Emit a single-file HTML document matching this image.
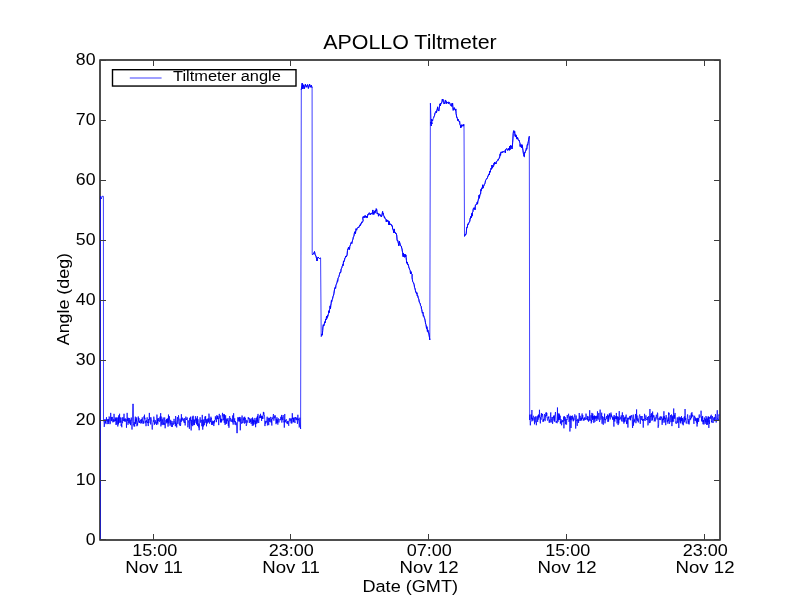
<!DOCTYPE html>
<html><head><meta charset="utf-8"><style>
html,body{margin:0;padding:0;background:#fff;width:800px;height:600px;overflow:hidden}
svg{display:block;will-change:transform}
text{font-family:"Liberation Sans",sans-serif;fill:#000}
</style></head><body>
<svg width="800" height="600" viewBox="0 0 800 600">
<rect x="0" y="0" width="800" height="600" fill="#fff"/>
<defs><clipPath id="ax"><rect x="100" y="60" width="620" height="480"/></clipPath></defs>
<rect x="100" y="60" width="620" height="480" fill="none" stroke="#000" stroke-width="1.39"/>
<path d="M100.30,540.00 L100.50,196.00 L101.30,199.00 L102.00,196.30 L103.40,196.30 L103.50,420.00 L103.80,421.89 L104.02,422.71 L104.24,426.88 L104.47,425.11 L104.69,419.19 L104.91,419.44 L105.13,420.80 L105.36,422.93 L105.58,419.66 L105.80,422.57 L106.02,424.11 L106.25,419.59 L106.47,417.24 L106.69,421.03 L106.91,419.64 L107.13,420.18 L107.36,419.60 L107.58,422.43 L107.80,424.11 L108.02,419.38 L108.25,421.73 L108.47,419.41 L108.69,423.89 L108.91,418.75 L109.13,416.52 L109.36,417.01 L109.58,421.71 L109.80,422.69 L110.02,424.16 L110.25,423.64 L110.47,423.38 L110.69,412.89 L110.91,418.52 L111.14,419.37 L111.36,421.02 L111.58,417.04 L111.80,417.99 L112.02,421.23 L112.25,416.92 L112.47,419.60 L112.69,420.27 L112.91,422.36 L113.14,421.00 L113.36,420.94 L113.58,419.32 L113.80,421.92 L114.03,413.85 L114.25,418.14 L114.47,421.31 L114.69,421.15 L114.91,420.19 L115.14,421.00 L115.36,417.54 L115.58,420.71 L115.80,419.26 L116.03,424.99 L116.25,418.07 L116.47,417.62 L116.69,424.34 L116.91,423.97 L117.14,417.65 L117.36,419.50 L117.58,420.59 L117.80,426.47 L118.03,423.04 L118.25,417.22 L118.47,424.35 L118.69,415.36 L118.92,422.81 L119.14,422.93 L119.36,419.10 L119.58,413.78 L119.80,421.50 L120.03,422.57 L120.25,420.52 L120.47,417.50 L120.69,422.46 L120.92,420.58 L121.14,425.90 L121.36,423.82 L121.58,424.81 L121.81,427.25 L122.03,417.59 L122.25,422.64 L122.47,423.20 L122.69,421.87 L122.92,417.22 L123.14,418.92 L123.36,420.93 L123.58,419.75 L123.81,418.90 L124.03,413.78 L124.25,421.09 L124.47,418.85 L124.69,419.67 L124.92,421.73 L125.14,419.63 L125.36,418.47 L125.58,419.16 L125.81,421.51 L126.03,419.08 L126.25,419.24 L126.47,427.78 L126.70,421.54 L126.92,420.33 L127.14,412.87 L127.36,418.30 L127.58,420.87 L127.81,417.88 L128.03,424.82 L128.25,420.89 L128.47,417.86 L128.70,418.32 L128.92,423.01 L129.14,419.53 L129.36,418.06 L129.59,422.47 L129.81,422.59 L130.03,423.91 L130.25,419.71 L130.47,425.14 L130.70,422.35 L130.92,421.31 L131.14,417.60 L131.36,417.69 L131.59,421.32 L131.81,426.42 L132.03,429.55 L132.25,423.59 L132.47,420.01 L132.70,404.00 L132.92,404.00 L133.14,404.00 L133.36,404.00 L133.59,424.55 L133.81,423.96 L134.03,426.45 L134.25,422.09 L134.48,424.85 L134.70,426.48 L134.92,422.22 L135.14,419.21 L135.36,416.66 L135.59,423.95 L135.81,418.85 L136.03,422.55 L136.25,419.80 L136.48,420.78 L136.70,417.41 L136.92,426.22 L137.14,423.04 L137.37,422.84 L137.59,425.32 L137.81,420.99 L138.03,420.69 L138.25,416.51 L138.48,418.00 L138.70,421.49 L138.92,418.01 L139.14,422.98 L139.37,421.03 L139.59,422.77 L139.81,421.97 L140.03,422.19 L140.25,420.46 L140.48,420.87 L140.70,419.66 L140.92,423.60 L141.14,421.67 L141.37,423.06 L141.59,419.13 L141.81,421.80 L142.03,421.27 L142.26,417.43 L142.48,419.94 L142.70,421.62 L142.92,423.69 L143.14,421.27 L143.37,421.28 L143.59,423.49 L143.81,419.47 L144.03,416.29 L144.26,418.31 L144.48,414.67 L144.70,419.45 L144.92,417.81 L145.15,423.26 L145.37,420.74 L145.59,421.02 L145.81,423.36 L146.03,426.18 L146.26,423.60 L146.48,420.30 L146.70,422.11 L146.92,420.00 L147.15,417.34 L147.37,421.12 L147.59,423.06 L147.81,421.88 L148.03,423.80 L148.26,426.06 L148.48,420.85 L148.70,419.04 L148.92,423.10 L149.15,418.61 L149.37,412.90 L149.59,419.47 L149.81,419.31 L150.04,417.51 L150.26,419.86 L150.48,421.76 L150.70,424.44 L150.92,417.29 L151.15,419.46 L151.37,419.97 L151.59,419.84 L151.81,422.13 L152.04,427.46 L152.26,429.54 L152.48,425.50 L152.70,425.70 L152.93,423.06 L153.15,422.29 L153.37,420.36 L153.59,421.69 L153.81,416.65 L154.04,419.33 L154.26,419.25 L154.48,424.73 L154.70,422.38 L154.93,423.84 L155.15,420.00 L155.37,422.11 L155.59,421.68 L155.81,423.27 L156.04,422.75 L156.26,422.11 L156.48,425.03 L156.70,422.52 L156.93,414.62 L157.15,419.42 L157.37,422.80 L157.59,418.57 L157.82,424.43 L158.04,419.98 L158.26,420.88 L158.48,420.79 L158.70,418.06 L158.93,419.99 L159.15,420.65 L159.37,421.75 L159.59,421.85 L159.82,419.59 L160.04,416.66 L160.26,421.08 L160.48,417.29 L160.70,413.15 L160.93,426.40 L161.15,416.53 L161.37,421.34 L161.59,421.65 L161.82,424.66 L162.04,421.41 L162.26,419.25 L162.48,419.87 L162.71,422.91 L162.93,425.09 L163.15,417.50 L163.37,421.86 L163.59,424.22 L163.82,424.31 L164.04,423.04 L164.26,425.06 L164.48,419.99 L164.71,417.46 L164.93,420.61 L165.15,428.26 L165.37,422.86 L165.60,422.57 L165.82,421.47 L166.04,420.02 L166.26,422.44 L166.48,419.15 L166.71,420.81 L166.93,423.43 L167.15,418.75 L167.37,422.30 L167.60,420.79 L167.82,418.42 L168.04,426.64 L168.26,421.82 L168.48,414.57 L168.71,423.38 L168.93,422.78 L169.15,419.65 L169.37,416.18 L169.60,421.02 L169.82,423.75 L170.04,425.61 L170.26,425.17 L170.49,422.61 L170.71,419.85 L170.93,423.90 L171.15,421.02 L171.37,426.46 L171.60,426.83 L171.82,425.82 L172.04,423.10 L172.26,427.02 L172.49,425.01 L172.71,424.90 L172.93,421.13 L173.15,424.61 L173.38,424.66 L173.60,423.08 L173.82,422.27 L174.04,418.86 L174.26,420.82 L174.49,421.74 L174.71,421.44 L174.93,423.93 L175.15,422.28 L175.38,426.21 L175.60,416.01 L175.82,417.95 L176.04,420.14 L176.26,425.16 L176.49,423.79 L176.71,427.45 L176.93,422.21 L177.15,420.96 L177.38,417.10 L177.60,419.49 L177.82,423.88 L178.04,421.15 L178.27,420.62 L178.49,415.30 L178.71,417.41 L178.93,421.35 L179.15,422.92 L179.38,425.31 L179.60,425.45 L179.82,421.47 L180.04,418.61 L180.27,422.60 L180.49,425.98 L180.71,424.66 L180.93,420.28 L181.16,421.97 L181.38,414.20 L181.60,420.63 L181.82,418.65 L182.04,419.77 L182.27,418.19 L182.49,417.69 L182.71,419.68 L182.93,420.72 L183.16,420.13 L183.38,418.95 L183.60,419.37 L183.82,421.81 L184.04,422.59 L184.27,418.03 L184.49,421.58 L184.71,423.00 L184.93,421.53 L185.16,425.44 L185.38,421.92 L185.60,418.01 L185.82,416.63 L186.05,417.49 L186.27,420.01 L186.49,419.48 L186.71,420.02 L186.93,419.29 L187.16,417.44 L187.38,419.40 L187.60,420.94 L187.82,427.26 L188.05,425.77 L188.27,423.62 L188.49,420.95 L188.71,420.51 L188.94,420.32 L189.16,422.89 L189.38,428.82 L189.60,419.00 L189.82,417.86 L190.05,420.86 L190.27,418.97 L190.49,416.71 L190.71,423.79 L190.94,424.87 L191.16,430.43 L191.38,419.86 L191.60,425.30 L191.82,423.59 L192.05,422.34 L192.27,416.51 L192.49,422.50 L192.71,426.14 L192.94,423.86 L193.16,415.74 L193.38,418.67 L193.60,425.03 L193.83,424.51 L194.05,419.41 L194.27,420.25 L194.49,425.06 L194.71,420.00 L194.94,422.76 L195.16,421.42 L195.38,416.19 L195.60,416.75 L195.83,420.47 L196.05,418.76 L196.27,423.07 L196.49,423.83 L196.72,418.46 L196.94,424.68 L197.16,418.92 L197.38,416.20 L197.60,426.07 L197.83,420.59 L198.05,419.35 L198.27,422.50 L198.49,422.96 L198.72,427.44 L198.94,424.11 L199.16,430.24 L199.38,424.99 L199.60,423.00 L199.83,418.51 L200.05,417.24 L200.27,417.55 L200.49,422.14 L200.72,422.70 L200.94,420.86 L201.16,419.82 L201.38,421.05 L201.61,420.65 L201.83,426.21 L202.05,422.25 L202.27,414.90 L202.49,423.32 L202.72,429.63 L202.94,425.76 L203.16,419.86 L203.38,426.44 L203.61,423.88 L203.83,422.58 L204.05,419.25 L204.27,425.19 L204.50,422.20 L204.72,422.63 L204.94,416.61 L205.16,419.95 L205.38,420.11 L205.61,416.13 L205.83,422.71 L206.05,419.43 L206.27,423.21 L206.50,426.30 L206.72,419.35 L206.94,419.42 L207.16,422.35 L207.38,423.44 L207.61,420.90 L207.83,418.84 L208.05,421.41 L208.27,418.26 L208.50,421.02 L208.72,422.44 L208.94,413.66 L209.16,415.97 L209.39,421.83 L209.61,423.66 L209.83,422.65 L210.05,418.61 L210.27,420.14 L210.50,421.92 L210.72,419.20 L210.94,416.72 L211.16,419.42 L211.39,418.18 L211.61,424.92 L211.83,421.59 L212.05,422.30 L212.28,421.94 L212.50,424.81 L212.72,420.73 L212.94,421.38 L213.16,423.13 L213.39,421.06 L213.61,423.95 L213.83,426.06 L214.05,422.48 L214.28,423.31 L214.50,420.11 L214.72,422.18 L214.94,420.29 L215.16,419.68 L215.39,416.32 L215.61,419.45 L215.83,418.82 L216.05,417.85 L216.28,419.44 L216.50,422.14 L216.72,415.76 L216.94,415.08 L217.17,418.20 L217.39,416.33 L217.61,419.18 L217.83,416.02 L218.05,418.92 L218.28,417.96 L218.50,419.24 L218.72,425.11 L218.94,416.71 L219.17,414.19 L219.39,413.86 L219.61,415.74 L219.83,418.49 L220.06,417.03 L220.28,415.36 L220.50,422.43 L220.72,418.41 L220.94,421.99 L221.17,419.15 L221.39,422.46 L221.61,421.84 L221.83,419.00 L222.06,420.51 L222.28,414.95 L222.50,412.89 L222.72,415.55 L222.94,416.37 L223.17,414.48 L223.39,417.69 L223.61,420.20 L223.83,418.95 L224.06,413.98 L224.28,422.81 L224.50,414.64 L224.72,419.61 L224.95,424.03 L225.17,424.96 L225.39,421.75 L225.61,415.30 L225.83,421.02 L226.06,423.96 L226.28,419.24 L226.50,418.71 L226.72,423.64 L226.95,420.05 L227.17,420.71 L227.39,421.14 L227.61,418.81 L227.84,419.25 L228.06,418.27 L228.28,425.79 L228.50,424.08 L228.72,420.65 L228.95,427.78 L229.17,422.89 L229.39,417.86 L229.61,416.12 L229.84,417.05 L230.06,421.15 L230.28,419.35 L230.50,418.16 L230.72,418.17 L230.95,419.58 L231.17,421.94 L231.39,420.78 L231.61,420.91 L231.84,421.05 L232.06,419.17 L232.28,420.50 L232.50,422.34 L232.73,415.43 L232.95,419.59 L233.17,424.60 L233.39,419.87 L233.61,413.24 L233.84,418.21 L234.06,419.32 L234.28,422.00 L234.50,419.32 L234.73,418.39 L234.95,424.51 L235.17,423.65 L235.39,421.04 L235.62,423.37 L235.84,425.10 L236.06,424.45 L236.28,422.47 L236.50,423.52 L236.73,433.00 L236.95,433.00 L237.17,433.00 L237.39,433.00 L237.62,421.91 L237.84,417.28 L238.06,420.67 L238.28,421.13 L238.50,418.17 L238.73,419.02 L238.95,417.40 L239.17,421.79 L239.39,416.95 L239.62,420.90 L239.84,420.01 L240.06,418.98 L240.28,430.29 L240.51,423.63 L240.73,417.24 L240.95,417.80 L241.17,421.88 L241.39,422.16 L241.62,423.70 L241.84,421.36 L242.06,415.54 L242.28,417.24 L242.51,423.07 L242.73,423.13 L242.95,422.67 L243.17,422.76 L243.40,421.18 L243.62,418.34 L243.84,419.97 L244.06,417.04 L244.28,421.79 L244.51,423.59 L244.73,416.73 L244.95,419.59 L245.17,419.63 L245.40,418.17 L245.62,419.66 L245.84,422.92 L246.06,419.90 L246.28,425.92 L246.51,425.18 L246.73,424.24 L246.95,420.65 L247.17,420.53 L247.40,421.52 L247.62,421.94 L247.84,422.59 L248.06,419.43 L248.29,417.14 L248.51,419.12 L248.73,419.19 L248.95,417.99 L249.17,417.95 L249.40,418.83 L249.62,422.96 L249.84,422.07 L250.06,418.58 L250.29,419.00 L250.51,422.03 L250.73,419.64 L250.95,420.86 L251.18,423.90 L251.40,419.49 L251.62,418.47 L251.84,418.47 L252.06,421.12 L252.29,425.80 L252.51,417.46 L252.73,423.34 L252.95,418.63 L253.18,421.46 L253.40,425.45 L253.62,419.99 L253.84,423.72 L254.06,423.90 L254.29,420.56 L254.51,420.64 L254.73,421.86 L254.95,417.94 L255.18,424.62 L255.40,421.29 L255.62,427.21 L255.84,422.56 L256.07,419.79 L256.29,423.72 L256.51,417.65 L256.73,419.62 L256.95,420.24 L257.18,423.24 L257.40,415.96 L257.62,421.50 L257.84,414.76 L258.07,413.91 L258.29,419.92 L258.51,421.61 L258.73,423.03 L258.95,420.13 L259.18,418.60 L259.40,417.36 L259.62,418.08 L259.84,415.39 L260.07,417.89 L260.29,416.30 L260.51,413.80 L260.73,417.85 L260.96,415.94 L261.18,418.13 L261.40,416.88 L261.62,420.94 L261.84,415.76 L262.07,418.13 L262.29,415.89 L262.51,418.99 L262.73,417.39 L262.96,418.78 L263.18,414.73 L263.40,411.90 L263.62,414.51 L263.85,412.48 L264.07,415.74 L264.29,415.54 L264.51,415.35 L264.73,419.28 L264.96,426.08 L265.18,420.88 L265.40,421.38 L265.62,423.70 L265.85,422.61 L266.07,421.17 L266.29,421.25 L266.51,421.31 L266.73,422.42 L266.96,419.06 L267.18,416.72 L267.40,425.42 L267.62,424.85 L267.85,419.46 L268.07,418.13 L268.29,417.82 L268.51,421.51 L268.74,425.15 L268.96,418.48 L269.18,419.95 L269.40,417.86 L269.62,421.58 L269.85,420.36 L270.07,421.83 L270.29,418.23 L270.51,416.90 L270.74,417.89 L270.96,420.45 L271.18,422.66 L271.40,419.09 L271.63,422.88 L271.85,425.54 L272.07,417.29 L272.29,419.17 L272.51,418.47 L272.74,418.67 L272.96,418.31 L273.18,415.78 L273.40,414.01 L273.63,415.04 L273.85,420.65 L274.07,416.98 L274.29,416.35 L274.51,416.87 L274.74,418.26 L274.96,415.24 L275.18,416.15 L275.40,415.87 L275.63,418.07 L275.85,420.95 L276.07,424.16 L276.29,418.93 L276.52,420.98 L276.74,423.03 L276.96,417.30 L277.18,422.75 L277.40,420.42 L277.63,419.62 L277.85,424.62 L278.07,420.27 L278.29,418.45 L278.52,418.54 L278.74,421.15 L278.96,422.43 L279.18,421.41 L279.41,420.98 L279.63,420.60 L279.85,419.10 L280.07,419.57 L280.29,420.09 L280.52,420.02 L280.74,416.83 L280.96,417.06 L281.18,419.47 L281.41,417.90 L281.63,414.93 L281.85,422.60 L282.07,418.43 L282.29,417.36 L282.52,418.13 L282.74,420.15 L282.96,416.04 L283.18,415.06 L283.41,418.27 L283.63,418.80 L283.85,422.30 L284.07,421.37 L284.30,427.63 L284.52,422.40 L284.74,413.97 L284.96,422.56 L285.18,420.05 L285.41,421.66 L285.63,420.23 L285.85,420.03 L286.07,420.02 L286.30,419.28 L286.52,419.82 L286.74,423.26 L286.96,422.45 L287.19,422.09 L287.41,424.08 L287.63,421.23 L287.85,422.25 L288.07,420.90 L288.30,422.12 L288.52,424.54 L288.74,425.78 L288.96,422.00 L289.19,421.61 L289.41,418.38 L289.63,418.49 L289.85,418.61 L290.07,420.92 L290.30,418.49 L290.52,418.69 L290.74,420.05 L290.96,422.53 L291.19,423.35 L291.41,418.71 L291.63,418.48 L291.85,423.44 L292.08,420.01 L292.30,413.23 L292.52,418.98 L292.74,418.00 L292.96,417.68 L293.19,422.32 L293.41,417.93 L293.63,421.89 L293.85,418.08 L294.08,418.40 L294.30,417.48 L294.52,421.42 L294.74,421.17 L294.97,423.04 L295.19,418.33 L295.41,417.02 L295.63,418.80 L295.85,419.62 L296.08,418.92 L296.30,417.56 L296.52,418.81 L296.74,420.18 L296.97,418.00 L297.19,418.29 L297.41,423.87 L297.63,420.34 L297.85,414.78 L298.08,419.96 L298.30,420.02 L298.52,418.67 L298.74,421.06 L298.97,423.16 L299.19,427.41 L299.41,426.80 L299.63,419.84 L299.86,417.71 L300.08,421.62 L300.60,429.00 L301.30,89.00 L301.30,89.50 L302.20,83.20 L302.80,89.00 L303.60,84.80 L304.40,88.60 L305.40,84.30 L306.40,87.20 L307.60,84.60 L308.40,88.40 L309.60,84.20 L310.50,87.20 L311.40,85.30 L312.10,88.00 L312.10,88.00 L312.20,254.50 L313.50,254.00 L314.50,251.50 L315.20,255.00 L316.00,256.00 L317.00,261.00 L318.00,257.00 L319.50,258.50 L320.60,258.00 L321.20,336.70 L321.70,335.96 L322.02,333.96 L322.34,334.82 L322.66,330.66 L322.98,326.59 L323.30,324.76 L323.64,325.99 L323.98,325.84 L324.32,323.96 L324.66,321.77 L325.00,322.58 L325.31,322.58 L325.62,319.01 L325.94,320.00 L326.25,318.79 L326.56,316.12 L326.88,318.43 L327.19,317.92 L327.50,315.43 L327.84,316.27 L328.18,314.63 L328.52,313.52 L328.86,310.75 L329.20,312.62 L329.52,309.71 L329.84,308.43 L330.16,305.85 L330.48,308.63 L330.80,305.20 L331.12,303.73 L331.45,300.63 L331.78,301.48 L332.10,299.64 L332.40,299.39 L332.70,298.13 L333.00,296.59 L333.30,295.90 L333.62,294.98 L333.95,293.35 L334.28,291.02 L334.60,288.99 L334.93,287.62 L335.26,287.45 L335.59,288.34 L335.92,285.42 L336.25,284.56 L336.54,283.83 L336.84,282.87 L337.13,282.21 L337.42,280.71 L337.71,281.21 L338.01,278.56 L338.30,277.75 L338.61,277.26 L338.93,276.69 L339.24,275.17 L339.55,274.23 L339.86,272.79 L340.18,272.30 L340.49,272.83 L340.80,272.06 L341.14,268.94 L341.48,268.47 L341.82,267.79 L342.16,266.45 L342.50,265.97 L342.84,264.50 L343.18,265.48 L343.52,260.89 L343.86,261.70 L344.20,260.88 L344.49,260.67 L344.78,258.31 L345.07,258.31 L345.36,257.73 L345.65,256.31 L345.94,256.17 L346.23,257.03 L346.52,255.84 L346.81,255.89 L347.10,254.90 L347.50,250.37 L347.84,249.07 L348.18,249.33 L348.52,247.05 L348.86,248.80 L349.20,248.33 L349.49,249.44 L349.79,246.39 L350.08,245.89 L350.37,244.85 L350.66,244.26 L350.96,242.90 L351.25,242.48 L351.54,243.00 L351.83,243.49 L352.12,242.06 L352.42,240.78 L352.71,239.73 L353.00,239.07 L353.32,237.15 L353.63,236.54 L353.95,236.30 L354.27,233.82 L354.58,231.97 L354.90,233.03 L355.19,231.55 L355.48,233.57 L355.77,230.77 L356.06,228.76 L356.34,229.31 L356.63,230.18 L356.92,229.08 L357.21,228.32 L357.50,227.90 L357.80,227.81 L358.10,227.34 L358.40,228.01 L358.70,227.31 L359.00,227.31 L359.30,226.02 L359.60,225.40 L359.90,225.64 L360.20,225.94 L360.50,223.80 L360.79,224.41 L361.08,223.81 L361.37,223.58 L361.66,222.02 L361.94,222.14 L362.23,222.27 L362.52,222.23 L362.81,221.34 L363.10,220.63 L362.75,217.67 L363.05,216.70 L363.35,216.70 L363.65,217.43 L363.95,216.66 L364.25,217.71 L364.55,216.52 L364.85,216.82 L365.15,215.47 L365.45,217.22 L365.75,216.54 L366.05,217.38 L366.35,217.50 L366.65,216.02 L366.95,216.41 L367.25,217.63 L367.55,216.20 L367.85,214.45 L368.15,214.86 L368.45,214.24 L368.75,213.37 L369.05,213.03 L369.35,212.78 L369.65,213.22 L369.95,214.45 L370.25,214.86 L370.57,213.74 L370.89,213.50 L371.21,213.86 L371.54,213.28 L371.86,213.43 L372.18,214.29 L372.50,211.81 L372.82,209.96 L373.13,211.65 L373.45,212.59 L373.77,214.47 L374.08,212.31 L374.40,213.14 L374.71,211.23 L375.03,213.10 L375.34,210.35 L375.66,211.19 L375.97,210.98 L376.29,208.69 L376.60,209.03 L376.92,211.31 L377.23,214.02 L377.55,213.26 L377.87,213.94 L378.18,213.53 L378.50,216.17 L378.80,215.03 L379.10,215.23 L379.40,214.15 L379.70,214.18 L380.00,214.30 L380.30,214.94 L380.60,216.22 L380.90,215.74 L381.20,215.70 L381.50,216.73 L381.87,215.68 L382.23,213.49 L382.60,211.45 L382.89,213.63 L383.18,213.10 L383.46,215.27 L383.75,215.52 L384.07,215.90 L384.39,217.75 L384.71,217.31 L385.04,218.28 L385.36,218.82 L385.68,219.13 L386.00,219.28 L386.29,221.71 L386.57,219.98 L386.86,219.78 L387.15,221.54 L387.44,220.65 L387.73,220.29 L388.01,220.57 L388.30,220.90 L388.62,222.87 L388.95,224.97 L389.28,221.47 L389.60,224.49 L389.90,223.55 L390.20,224.25 L390.50,224.64 L390.80,224.95 L391.10,224.34 L391.40,225.00 L391.70,225.91 L392.02,225.63 L392.34,225.75 L392.66,229.07 L392.98,229.05 L393.30,229.84 L393.64,232.73 L393.98,232.15 L394.32,228.95 L394.66,232.60 L395.00,232.02 L395.31,232.95 L395.62,233.56 L395.94,233.05 L396.25,233.79 L396.68,234.98 L397.10,240.00 L397.43,240.94 L397.76,240.58 L398.09,242.09 L398.42,243.42 L398.75,245.75 L399.08,244.55 L399.41,241.27 L399.74,242.92 L400.07,243.72 L400.40,245.83 L400.72,245.77 L401.05,246.04 L401.38,246.19 L401.70,248.33 L401.99,248.45 L402.29,250.94 L402.58,252.26 L402.87,255.03 L403.16,256.69 L403.46,253.13 L403.75,256.12 L404.04,256.52 L404.34,257.10 L404.63,257.17 L404.92,254.02 L405.21,256.03 L405.51,257.00 L405.80,254.92 L406.12,257.47 L406.45,260.35 L406.78,263.24 L407.10,261.99 L407.41,262.61 L407.71,264.68 L408.02,264.23 L408.33,265.17 L408.64,266.30 L408.94,267.92 L409.25,268.13 L409.57,269.41 L409.88,269.67 L410.20,270.39 L410.52,273.96 L410.83,272.23 L411.15,271.75 L411.47,273.78 L411.78,273.84 L412.10,274.28 L412.10,277.86 L412.40,279.64 L412.70,281.52 L413.00,282.26 L413.30,282.50 L413.60,282.80 L413.90,284.19 L414.20,284.65 L414.50,287.38 L414.80,287.88 L415.10,288.98 L415.40,290.34 L415.70,291.93 L416.00,291.71 L416.30,293.02 L416.61,293.99 L416.93,292.75 L417.24,295.98 L417.56,295.73 L417.87,295.67 L418.19,298.09 L418.50,298.42 L418.80,299.31 L419.10,300.97 L419.40,302.46 L419.70,302.61 L420.00,303.04 L420.30,304.17 L420.60,305.71 L420.90,306.08 L421.20,306.44 L421.50,309.16 L421.80,309.68 L422.10,311.59 L422.40,313.15 L422.70,312.41 L423.00,312.15 L423.30,316.15 L423.60,315.56 L423.90,316.29 L424.20,317.39 L424.50,318.18 L424.80,319.12 L425.09,320.32 L425.38,322.17 L425.67,324.06 L425.96,324.33 L426.25,326.37 L426.54,328.43 L426.83,326.64 L427.12,327.75 L427.41,331.45 L427.70,329.86 L428.05,330.21 L428.40,332.91 L428.75,332.78 L429.10,335.13 L429.45,337.26 L429.80,340.00 L430.40,103.10 L431.30,126.00 L430.80,122.00 L432.00,124.00 L431.60,119.00 L432.60,121.00 L433.40,118.27 L433.75,117.31 L434.10,116.44 L434.45,115.80 L434.80,114.10 L435.14,112.60 L435.48,112.38 L435.82,112.20 L436.16,111.21 L436.50,112.64 L436.90,110.04 L437.30,109.07 L437.60,106.87 L437.90,109.22 L438.20,110.59 L438.50,110.56 L438.87,111.04 L439.23,108.10 L439.60,105.60 L439.89,103.87 L440.17,104.58 L440.46,106.00 L440.74,103.19 L441.03,103.72 L441.31,103.26 L441.60,102.48 L441.95,102.37 L442.30,99.29 L442.65,100.19 L443.00,99.43 L443.35,101.27 L443.70,102.36 L444.05,104.03 L444.40,103.57 L444.70,103.01 L445.00,102.00 L445.30,100.11 L445.60,100.44 L445.92,100.73 L446.23,103.74 L446.55,101.77 L446.87,102.75 L447.18,102.22 L447.50,102.69 L447.81,102.61 L448.13,103.06 L448.44,103.70 L448.76,101.96 L449.07,102.14 L449.39,102.50 L449.70,102.68 L450.10,104.46 L450.41,104.59 L450.73,104.95 L451.04,105.74 L451.35,105.13 L451.66,106.35 L451.98,103.40 L452.29,105.10 L452.60,103.36 L452.90,107.73 L453.21,110.32 L453.53,109.61 L453.84,109.18 L454.16,107.60 L454.47,109.15 L454.79,109.29 L455.10,109.03 L455.45,110.45 L455.80,108.94 L456.10,113.72 L456.40,115.06 L456.72,117.37 L457.05,117.29 L457.38,118.47 L457.70,120.49 L458.02,119.01 L458.33,120.26 L458.65,121.20 L458.97,121.44 L459.28,121.44 L459.60,121.14 L459.90,124.33 L460.20,124.85 L460.50,125.78 L460.80,127.94 L461.10,125.15 L461.39,126.14 L461.68,126.92 L461.97,124.67 L462.26,125.02 L462.55,125.59 L462.84,125.30 L463.13,126.15 L463.42,125.93 L463.71,124.36 L464.00,125.40 L464.50,236.50 L464.60,235.66 L464.93,235.72 L465.26,234.29 L465.59,234.90 L465.92,234.65 L466.25,233.16 L466.70,227.64 L467.02,228.00 L467.34,227.14 L467.66,224.34 L467.98,223.82 L468.30,224.46 L468.60,223.55 L468.90,222.96 L469.20,222.10 L469.50,221.51 L469.80,221.51 L470.10,218.65 L470.40,218.97 L470.74,216.46 L471.08,217.75 L471.42,217.45 L471.76,213.48 L472.10,216.11 L472.50,212.26 L472.90,211.71 L473.32,208.52 L473.75,208.41 L474.06,207.77 L474.38,208.27 L474.69,207.88 L475.00,209.82 L475.40,205.09 L475.80,204.76 L476.14,204.29 L476.48,204.47 L476.82,204.02 L477.16,202.33 L477.50,204.13 L477.90,200.93 L478.20,200.43 L478.50,198.55 L478.80,197.79 L479.10,195.20 L479.40,198.27 L479.70,195.93 L480.00,194.48 L480.30,193.85 L480.60,194.02 L480.90,189.47 L481.20,190.59 L481.51,189.63 L481.82,187.95 L482.13,188.56 L482.44,186.87 L482.76,184.79 L483.07,188.13 L483.38,186.53 L483.69,186.30 L484.00,185.50 L484.30,184.49 L484.60,184.29 L484.90,183.53 L485.20,182.47 L485.50,180.67 L485.80,180.15 L486.10,179.46 L486.40,179.22 L486.70,178.69 L487.00,178.74 L487.30,177.96 L487.60,177.24 L487.95,175.77 L488.30,175.79 L488.65,175.04 L489.00,173.91 L489.30,174.78 L489.60,172.02 L489.90,171.03 L490.20,172.24 L490.50,170.25 L490.80,169.25 L491.11,168.18 L491.42,169.24 L491.73,167.99 L492.04,165.00 L492.36,168.14 L492.67,167.02 L492.98,167.20 L493.29,166.79 L493.60,166.35 L493.90,163.60 L494.20,164.37 L494.50,162.31 L494.80,163.82 L495.10,163.17 L495.40,163.53 L495.70,162.75 L496.00,163.83 L496.30,161.64 L496.65,161.45 L497.00,160.85 L497.35,160.91 L497.70,160.50 L498.02,159.54 L498.33,160.12 L498.65,158.96 L498.97,158.60 L499.28,157.51 L499.60,157.67 L500.00,154.21 L500.29,153.73 L500.57,155.32 L500.86,152.10 L501.15,152.22 L501.44,152.08 L501.73,152.69 L502.01,152.22 L502.30,151.68 L502.60,152.50 L502.90,152.00 L503.20,151.36 L503.50,151.64 L503.80,151.63 L504.10,151.40 L504.40,151.08 L504.70,150.82 L505.00,151.25 L505.32,152.85 L505.65,149.69 L505.98,149.06 L506.30,148.97 L506.59,148.65 L506.87,148.86 L507.16,149.73 L507.44,149.93 L507.73,150.37 L508.01,150.12 L508.30,148.53 L508.59,148.74 L508.87,149.59 L509.16,148.66 L509.44,150.28 L509.73,146.25 L510.01,149.72 L510.30,146.99 L510.70,145.40 L511.02,146.47 L511.34,145.94 L511.66,147.02 L511.98,148.92 L512.30,147.51 L512.60,142.87 L512.90,138.94 L513.20,133.67 L513.50,131.31 L513.80,130.67 L514.10,131.50 L514.40,132.58 L514.70,131.56 L515.02,136.20 L515.34,136.42 L515.66,134.65 L515.98,137.07 L516.30,135.52 L516.70,138.83 L516.99,138.95 L517.27,139.06 L517.56,137.44 L517.84,138.30 L518.13,139.51 L518.41,139.72 L518.70,140.28 L519.03,140.05 L519.35,141.09 L519.67,142.41 L520.00,143.22 L520.00,146.08 L520.29,146.61 L520.58,145.36 L520.86,144.60 L521.15,145.12 L521.44,147.71 L521.72,146.25 L522.01,144.73 L522.30,145.58 L522.64,148.11 L522.98,150.32 L523.32,152.91 L523.66,154.71 L524.00,156.43 L524.34,156.66 L524.68,152.35 L525.02,152.75 L525.36,151.62 L525.70,150.63 L525.99,150.65 L526.28,148.57 L526.56,149.01 L526.85,149.29 L527.14,145.41 L527.42,144.38 L527.71,145.21 L528.00,143.11 L528.33,141.51 L528.65,139.67 L528.97,137.79 L529.30,136.30 L529.70,420.00 L529.90,414.68 L530.12,420.87 L530.34,425.30 L530.57,422.03 L530.79,421.36 L531.01,421.42 L531.23,414.48 L531.46,416.95 L531.68,419.14 L531.90,410.00 L532.12,421.23 L532.35,420.35 L532.57,417.84 L532.79,419.82 L533.01,420.28 L533.23,417.36 L533.46,415.77 L533.68,416.53 L533.90,418.10 L534.12,420.72 L534.35,421.29 L534.57,424.30 L534.79,417.16 L535.01,422.49 L535.23,422.31 L535.46,416.73 L535.68,416.39 L535.90,417.62 L536.12,419.50 L536.35,425.23 L536.57,422.13 L536.79,420.25 L537.01,416.40 L537.24,419.15 L537.46,419.50 L537.68,421.90 L537.90,415.53 L538.12,419.70 L538.35,418.24 L538.57,414.51 L538.79,417.39 L539.01,415.17 L539.24,417.33 L539.46,409.79 L539.68,414.66 L539.90,415.43 L540.12,420.56 L540.35,423.37 L540.57,419.50 L540.79,417.23 L541.01,419.79 L541.24,416.13 L541.46,413.20 L541.68,416.61 L541.90,417.04 L542.13,413.97 L542.35,415.11 L542.57,413.90 L542.79,416.91 L543.01,421.87 L543.24,419.83 L543.46,421.38 L543.68,418.92 L543.90,420.03 L544.13,419.70 L544.35,415.57 L544.57,414.16 L544.79,416.31 L545.01,421.17 L545.24,420.55 L545.46,415.32 L545.68,416.65 L545.90,412.72 L546.13,414.46 L546.35,412.43 L546.57,416.04 L546.79,412.92 L547.02,417.91 L547.24,417.60 L547.46,420.36 L547.68,420.59 L547.90,419.54 L548.13,418.02 L548.35,416.92 L548.57,418.26 L548.79,416.47 L549.02,421.31 L549.24,422.85 L549.46,419.97 L549.68,419.62 L549.90,421.40 L550.13,422.35 L550.35,418.21 L550.57,414.23 L550.79,412.45 L551.02,420.31 L551.24,422.44 L551.46,419.07 L551.68,419.37 L551.91,417.04 L552.13,417.61 L552.35,417.66 L552.57,423.86 L552.79,421.97 L553.02,417.03 L553.24,417.98 L553.46,415.72 L553.68,417.28 L553.91,420.57 L554.13,420.34 L554.35,415.44 L554.57,421.68 L554.79,416.46 L555.02,415.84 L555.24,413.65 L555.46,412.01 L555.68,415.95 L555.91,420.74 L556.13,422.73 L556.35,421.07 L556.57,422.32 L556.80,422.72 L557.02,422.60 L557.24,423.19 L557.46,407.50 L557.68,421.11 L557.91,420.71 L558.13,421.69 L558.35,413.49 L558.57,419.87 L558.80,417.12 L559.02,419.96 L559.24,413.64 L559.46,418.27 L559.68,414.90 L559.91,419.92 L560.13,415.96 L560.35,423.62 L560.57,421.61 L560.80,423.21 L561.02,419.22 L561.24,419.86 L561.46,425.24 L561.69,425.15 L561.91,420.88 L562.13,422.22 L562.35,421.32 L562.57,420.13 L562.80,420.68 L563.02,421.92 L563.24,420.90 L563.46,419.35 L563.69,416.62 L563.91,428.32 L564.13,421.27 L564.35,416.18 L564.57,418.47 L564.80,419.93 L565.02,420.90 L565.24,417.21 L565.46,424.31 L565.69,422.16 L565.91,419.29 L566.13,421.13 L566.35,423.67 L566.58,424.57 L566.80,419.11 L567.02,420.01 L567.24,414.94 L567.46,417.81 L567.69,418.31 L567.91,416.99 L568.13,416.65 L568.35,416.04 L568.58,413.76 L568.80,415.90 L569.02,421.85 L569.24,420.24 L569.46,416.52 L569.69,421.09 L569.91,431.50 L570.13,424.58 L570.35,415.70 L570.58,419.97 L570.80,417.47 L571.02,428.00 L571.24,417.52 L571.47,417.05 L571.69,416.00 L571.91,420.21 L572.13,416.25 L572.35,415.53 L572.58,418.77 L572.80,417.77 L573.02,416.76 L573.24,421.32 L573.47,418.46 L573.69,420.33 L573.91,420.42 L574.13,420.18 L574.35,417.27 L574.58,415.68 L574.80,414.36 L575.02,415.94 L575.24,417.32 L575.47,421.03 L575.69,428.57 L575.91,423.04 L576.13,415.54 L576.36,419.63 L576.58,420.74 L576.80,420.20 L577.02,423.07 L577.24,425.86 L577.47,419.84 L577.69,418.97 L577.91,418.95 L578.13,421.00 L578.36,419.70 L578.58,422.88 L578.80,418.38 L579.02,418.61 L579.24,412.99 L579.47,417.83 L579.69,418.10 L579.91,420.91 L580.13,415.81 L580.36,419.13 L580.58,418.72 L580.80,420.43 L581.02,420.87 L581.25,417.89 L581.47,420.12 L581.69,416.41 L581.91,414.89 L582.13,413.49 L582.36,418.84 L582.58,416.16 L582.80,415.15 L583.02,418.21 L583.25,420.64 L583.47,418.73 L583.69,418.56 L583.91,419.71 L584.13,420.49 L584.36,417.76 L584.58,419.51 L584.80,417.38 L585.02,417.44 L585.25,418.76 L585.47,419.85 L585.69,419.35 L585.91,413.60 L586.14,413.76 L586.36,417.71 L586.58,418.91 L586.80,419.39 L587.02,419.50 L587.25,417.82 L587.47,420.30 L587.69,415.96 L587.91,417.84 L588.14,416.70 L588.36,419.08 L588.58,421.69 L588.80,419.51 L589.02,420.33 L589.25,418.92 L589.47,419.59 L589.69,410.23 L589.91,419.49 L590.14,420.85 L590.36,419.87 L590.58,418.72 L590.80,418.27 L591.03,415.27 L591.25,423.36 L591.47,420.08 L591.69,422.02 L591.91,412.90 L592.14,417.81 L592.36,415.24 L592.58,420.02 L592.80,413.58 L593.03,418.80 L593.25,416.26 L593.47,416.14 L593.69,422.20 L593.92,422.99 L594.14,416.20 L594.36,419.47 L594.58,415.52 L594.80,421.49 L595.03,421.91 L595.25,416.27 L595.47,417.84 L595.69,418.72 L595.92,416.00 L596.14,417.67 L596.36,416.58 L596.58,416.64 L596.80,421.02 L597.03,415.63 L597.25,418.60 L597.47,411.35 L597.69,413.71 L597.92,417.34 L598.14,419.59 L598.36,415.55 L598.58,415.22 L598.81,412.99 L599.03,417.97 L599.25,419.07 L599.47,421.98 L599.69,421.18 L599.92,416.95 L600.14,409.65 L600.36,418.41 L600.58,419.40 L600.81,419.64 L601.03,419.33 L601.25,418.94 L601.47,416.03 L601.69,412.70 L601.92,422.93 L602.14,423.75 L602.36,421.00 L602.58,416.19 L602.81,419.05 L603.03,419.85 L603.25,424.79 L603.47,419.33 L603.70,419.54 L603.92,417.09 L604.14,418.77 L604.36,419.79 L604.58,413.57 L604.81,419.71 L605.03,423.36 L605.25,420.01 L605.47,419.07 L605.70,420.19 L605.92,418.81 L606.14,417.14 L606.36,417.14 L606.58,416.09 L606.81,419.06 L607.03,417.15 L607.25,416.89 L607.47,414.49 L607.70,421.21 L607.92,421.94 L608.14,419.76 L608.36,415.37 L608.59,421.52 L608.81,416.48 L609.03,417.59 L609.25,413.64 L609.47,416.36 L609.70,413.47 L609.92,414.72 L610.14,419.48 L610.36,417.62 L610.59,416.41 L610.81,413.78 L611.03,412.57 L611.25,417.27 L611.47,414.55 L611.70,415.69 L611.92,416.24 L612.14,417.12 L612.36,417.60 L612.59,419.47 L612.81,416.80 L613.03,419.67 L613.25,416.68 L613.48,418.98 L613.70,422.59 L613.92,426.60 L614.14,415.02 L614.36,420.42 L614.59,417.61 L614.81,421.60 L615.03,416.55 L615.25,417.34 L615.48,416.41 L615.70,419.02 L615.92,418.19 L616.14,418.56 L616.36,412.96 L616.59,419.32 L616.81,416.50 L617.03,423.41 L617.25,419.99 L617.48,416.52 L617.70,419.31 L617.92,419.10 L618.14,425.07 L618.37,416.79 L618.59,417.01 L618.81,423.46 L619.03,415.55 L619.25,411.11 L619.48,417.70 L619.70,419.93 L619.92,420.03 L620.14,418.11 L620.37,417.43 L620.59,417.57 L620.81,418.84 L621.03,416.83 L621.25,415.39 L621.48,420.92 L621.70,421.39 L621.92,415.75 L622.14,415.50 L622.37,412.38 L622.59,417.23 L622.81,419.66 L623.03,421.67 L623.26,415.16 L623.48,417.60 L623.70,421.08 L623.92,423.64 L624.14,418.07 L624.37,422.10 L624.59,421.24 L624.81,417.23 L625.03,421.51 L625.26,416.67 L625.48,416.99 L625.70,417.31 L625.92,418.54 L626.14,414.64 L626.37,421.80 L626.59,424.07 L626.81,420.44 L627.03,422.93 L627.26,423.70 L627.48,418.59 L627.70,417.84 L627.92,427.55 L628.15,417.71 L628.37,418.15 L628.59,419.16 L628.81,418.27 L629.03,419.37 L629.26,418.63 L629.48,416.54 L629.70,417.37 L629.92,416.54 L630.15,419.46 L630.37,415.72 L630.59,420.28 L630.81,416.59 L631.03,417.16 L631.26,417.41 L631.48,415.97 L631.70,415.07 L631.92,416.50 L632.15,417.32 L632.37,424.63 L632.59,428.00 L632.81,420.13 L633.04,420.54 L633.26,414.63 L633.48,425.68 L633.70,421.47 L633.92,422.50 L634.15,421.55 L634.37,419.42 L634.59,421.66 L634.81,419.19 L635.04,418.28 L635.26,417.34 L635.48,413.97 L635.70,420.02 L635.92,423.19 L636.15,421.16 L636.37,418.37 L636.59,409.44 L636.81,419.67 L637.04,415.50 L637.26,421.19 L637.48,420.76 L637.70,418.60 L637.93,418.48 L638.15,420.05 L638.37,422.45 L638.59,420.07 L638.81,418.51 L639.04,417.80 L639.26,416.14 L639.48,415.26 L639.70,414.49 L639.93,416.62 L640.15,423.94 L640.37,423.55 L640.59,416.45 L640.81,416.92 L641.04,416.07 L641.26,416.49 L641.48,418.69 L641.70,419.98 L641.93,416.85 L642.15,416.01 L642.37,421.02 L642.59,420.67 L642.82,419.06 L643.04,421.34 L643.26,427.61 L643.48,421.06 L643.70,418.97 L643.93,420.19 L644.15,419.74 L644.37,417.28 L644.59,413.83 L644.82,418.76 L645.04,421.04 L645.26,419.52 L645.48,418.05 L645.70,418.77 L645.93,415.39 L646.15,419.08 L646.37,420.06 L646.59,419.54 L646.82,419.00 L647.04,419.47 L647.26,420.14 L647.48,416.96 L647.71,419.17 L647.93,425.36 L648.15,424.51 L648.37,420.24 L648.59,416.12 L648.82,417.45 L649.04,418.54 L649.26,421.68 L649.48,423.08 L649.71,421.01 L649.93,409.00 L650.15,422.63 L650.37,416.45 L650.59,417.02 L650.82,415.50 L651.04,414.18 L651.26,414.84 L651.48,416.53 L651.71,413.03 L651.93,420.77 L652.15,415.28 L652.37,419.93 L652.60,411.60 L652.82,415.01 L653.04,414.99 L653.26,416.19 L653.48,415.61 L653.71,417.44 L653.93,415.43 L654.15,421.36 L654.37,420.98 L654.60,420.12 L654.82,417.62 L655.04,420.04 L655.26,421.38 L655.48,418.68 L655.71,417.71 L655.93,418.11 L656.15,415.67 L656.37,414.72 L656.60,415.98 L656.82,418.65 L657.04,419.60 L657.26,419.35 L657.49,412.65 L657.71,413.43 L657.93,418.70 L658.15,427.75 L658.37,425.47 L658.60,425.85 L658.82,418.58 L659.04,419.32 L659.26,418.21 L659.49,419.88 L659.71,419.62 L659.93,416.72 L660.15,418.83 L660.38,419.62 L660.60,420.09 L660.82,416.31 L661.04,418.29 L661.26,418.23 L661.49,416.84 L661.71,418.98 L661.93,420.67 L662.15,424.87 L662.38,418.56 L662.60,420.49 L662.82,419.99 L663.04,422.68 L663.26,416.48 L663.49,420.04 L663.71,415.74 L663.93,411.24 L664.15,419.10 L664.38,416.31 L664.60,419.38 L664.82,422.55 L665.04,419.13 L665.27,417.81 L665.49,417.91 L665.71,425.17 L665.93,421.74 L666.15,415.14 L666.38,418.35 L666.60,418.27 L666.82,418.83 L667.04,420.22 L667.27,421.97 L667.49,420.84 L667.71,419.84 L667.93,423.70 L668.15,417.46 L668.38,421.09 L668.60,412.53 L668.82,414.80 L669.04,412.83 L669.27,418.97 L669.49,423.77 L669.71,422.76 L669.93,420.45 L670.16,417.15 L670.38,417.06 L670.60,415.11 L670.82,420.41 L671.04,422.09 L671.27,416.02 L671.49,414.50 L671.71,418.36 L671.93,426.11 L672.16,419.57 L672.38,416.60 L672.60,421.60 L672.82,415.60 L673.04,417.40 L673.27,421.73 L673.49,414.66 L673.71,408.50 L673.93,418.64 L674.16,418.25 L674.38,417.68 L674.60,414.82 L674.82,418.70 L675.05,412.95 L675.27,420.59 L675.49,422.78 L675.71,422.43 L675.93,422.90 L676.16,424.01 L676.38,423.32 L676.60,421.58 L676.82,421.89 L677.05,419.25 L677.27,417.41 L677.49,420.56 L677.71,423.11 L677.93,418.85 L678.16,417.56 L678.38,418.95 L678.60,420.82 L678.82,428.00 L679.05,416.57 L679.27,419.77 L679.49,420.20 L679.71,417.55 L679.94,419.13 L680.16,422.41 L680.38,417.40 L680.60,423.34 L680.82,422.24 L681.05,418.15 L681.27,421.17 L681.49,416.16 L681.71,420.63 L681.94,418.14 L682.16,421.35 L682.38,424.29 L682.60,417.95 L682.82,419.29 L683.05,419.34 L683.27,425.28 L683.49,419.51 L683.71,419.30 L683.94,419.49 L684.16,416.84 L684.38,422.25 L684.60,416.44 L684.83,417.38 L685.05,409.00 L685.27,415.67 L685.49,420.26 L685.71,417.95 L685.94,422.67 L686.16,423.43 L686.38,423.62 L686.60,421.80 L686.83,420.64 L687.05,420.07 L687.27,417.97 L687.49,414.58 L687.71,414.44 L687.94,418.47 L688.16,423.90 L688.38,421.04 L688.60,422.38 L688.83,419.12 L689.05,424.45 L689.27,421.34 L689.49,421.01 L689.72,421.21 L689.94,415.38 L690.16,419.83 L690.38,419.41 L690.60,418.08 L690.83,419.27 L691.05,417.13 L691.27,413.28 L691.49,417.96 L691.72,414.38 L691.94,412.23 L692.16,416.49 L692.38,416.58 L692.60,414.82 L692.83,415.67 L693.05,415.76 L693.27,415.75 L693.49,420.19 L693.72,421.80 L693.94,423.92 L694.16,418.65 L694.38,418.08 L694.61,415.75 L694.83,418.22 L695.05,420.94 L695.27,417.97 L695.49,417.54 L695.72,420.50 L695.94,418.87 L696.16,420.71 L696.38,422.52 L696.61,420.58 L696.83,418.02 L697.05,426.51 L697.27,419.14 L697.49,423.76 L697.72,417.86 L697.94,420.50 L698.16,419.35 L698.38,418.02 L698.61,421.93 L698.83,420.07 L699.05,415.71 L699.27,414.49 L699.50,417.38 L699.72,417.88 L699.94,417.59 L700.16,417.08 L700.38,416.57 L700.61,415.52 L700.83,414.51 L701.05,410.70 L701.27,413.32 L701.50,420.82 L701.72,418.50 L701.94,416.75 L702.16,421.96 L702.38,419.30 L702.61,415.95 L702.83,418.41 L703.05,424.22 L703.27,420.02 L703.50,421.75 L703.72,420.40 L703.94,424.51 L704.16,420.61 L704.39,417.54 L704.61,420.57 L704.83,420.44 L705.05,421.82 L705.27,423.76 L705.50,418.81 L705.72,421.96 L705.94,415.99 L706.16,416.95 L706.39,417.96 L706.61,424.90 L706.83,420.71 L707.05,417.65 L707.27,421.99 L707.50,424.65 L707.72,419.01 L707.94,422.07 L708.16,416.36 L708.39,419.53 L708.61,416.76 L708.83,427.92 L709.05,420.16 L709.28,423.00 L709.50,423.89 L709.72,416.97 L709.94,418.71 L710.16,417.61 L710.39,417.19 L710.61,416.20 L710.83,418.61 L711.05,415.11 L711.28,414.76 L711.50,421.98 L711.72,421.08 L711.94,422.71 L712.16,418.21 L712.39,416.04 L712.61,418.54 L712.83,418.93 L713.05,422.97 L713.28,421.27 L713.50,418.27 L713.72,417.67 L713.94,418.30 L714.17,420.19 L714.39,417.11 L714.61,419.91 L714.83,421.16 L715.05,419.76 L715.28,416.26 L715.50,414.10 L715.72,419.83 L715.94,419.76 L716.17,422.50 L716.39,421.02 L716.61,418.21 L716.83,416.04 L717.05,414.36 L717.28,410.22 L717.50,419.33 L717.72,418.46 L717.94,419.95 L718.17,419.15 L718.39,419.93 L718.61,418.77 L718.83,414.76 L719.06,415.38 L719.28,414.03" fill="none" stroke="#0000ff" stroke-width="0.75" stroke-linejoin="round" clip-path="url(#ax)"/>
<path d="M321.70,335.96 L322.02,333.96 L322.34,334.82 L322.66,330.66 L322.98,326.59 L323.30,324.76 L323.64,325.99 L323.98,325.84 L324.32,323.96 L324.66,321.77 L325.00,322.58 L325.31,322.58 L325.62,319.01 L325.94,320.00 L326.25,318.79 L326.56,316.12 L326.88,318.43 L327.19,317.92 L327.50,315.43 L327.84,316.27 L328.18,314.63 L328.52,313.52 L328.86,310.75 L329.20,312.62 L329.52,309.71 L329.84,308.43 L330.16,305.85 L330.48,308.63 L330.80,305.20 L331.12,303.73 L331.45,300.63 L331.78,301.48 L332.10,299.64 L332.40,299.39 L332.70,298.13 L333.00,296.59 L333.30,295.90 L333.62,294.98 L333.95,293.35 L334.28,291.02 L334.60,288.99 L334.93,287.62 L335.26,287.45 L335.59,288.34 L335.92,285.42 L336.25,284.56 L336.54,283.83 L336.84,282.87 L337.13,282.21 L337.42,280.71 L337.71,281.21 L338.01,278.56 L338.30,277.75 L338.61,277.26 L338.93,276.69 L339.24,275.17 L339.55,274.23 L339.86,272.79 L340.18,272.30 L340.49,272.83 L340.80,272.06 L341.14,268.94 L341.48,268.47 L341.82,267.79 L342.16,266.45 L342.50,265.97 L342.84,264.50 L343.18,265.48 L343.52,260.89 L343.86,261.70 L344.20,260.88 L344.49,260.67 L344.78,258.31 L345.07,258.31 L345.36,257.73 L345.65,256.31 L345.94,256.17 L346.23,257.03 L346.52,255.84 L346.81,255.89 L347.10,254.90 L347.50,250.37 L347.84,249.07 L348.18,249.33 L348.52,247.05 L348.86,248.80 L349.20,248.33 L349.49,249.44 L349.79,246.39 L350.08,245.89 L350.37,244.85 L350.66,244.26 L350.96,242.90 L351.25,242.48 L351.54,243.00 L351.83,243.49 L352.12,242.06 L352.42,240.78 L352.71,239.73 L353.00,239.07 L353.32,237.15 L353.63,236.54 L353.95,236.30 L354.27,233.82 L354.58,231.97 L354.90,233.03 L355.19,231.55 L355.48,233.57 L355.77,230.77 L356.06,228.76 L356.34,229.31 L356.63,230.18 L356.92,229.08 L357.21,228.32 L357.50,227.90 L357.80,227.81 L358.10,227.34 L358.40,228.01 L358.70,227.31 L359.00,227.31 L359.30,226.02 L359.60,225.40 L359.90,225.64 L360.20,225.94 L360.50,223.80 L360.79,224.41 L361.08,223.81 L361.37,223.58 L361.66,222.02 L361.94,222.14 L362.23,222.27 L362.52,222.23 L362.81,221.34 L363.10,220.63 L362.75,217.67 L363.05,216.70 L363.35,216.70 L363.65,217.43 L363.95,216.66 L364.25,217.71 L364.55,216.52 L364.85,216.82 L365.15,215.47 L365.45,217.22 L365.75,216.54 L366.05,217.38 L366.35,217.50 L366.65,216.02 L366.95,216.41 L367.25,217.63 L367.55,216.20 L367.85,214.45 L368.15,214.86 L368.45,214.24 L368.75,213.37 L369.05,213.03 L369.35,212.78 L369.65,213.22 L369.95,214.45 L370.25,214.86 L370.57,213.74 L370.89,213.50 L371.21,213.86 L371.54,213.28 L371.86,213.43 L372.18,214.29 L372.50,211.81 L372.82,209.96 L373.13,211.65 L373.45,212.59 L373.77,214.47 L374.08,212.31 L374.40,213.14 L374.71,211.23 L375.03,213.10 L375.34,210.35 L375.66,211.19 L375.97,210.98 L376.29,208.69 L376.60,209.03 L376.92,211.31 L377.23,214.02 L377.55,213.26 L377.87,213.94 L378.18,213.53 L378.50,216.17 L378.80,215.03 L379.10,215.23 L379.40,214.15 L379.70,214.18 L380.00,214.30 L380.30,214.94 L380.60,216.22 L380.90,215.74 L381.20,215.70 L381.50,216.73 L381.87,215.68 L382.23,213.49 L382.60,211.45 L382.89,213.63 L383.18,213.10 L383.46,215.27 L383.75,215.52 L384.07,215.90 L384.39,217.75 L384.71,217.31 L385.04,218.28 L385.36,218.82 L385.68,219.13 L386.00,219.28 L386.29,221.71 L386.57,219.98 L386.86,219.78 L387.15,221.54 L387.44,220.65 L387.73,220.29 L388.01,220.57 L388.30,220.90 L388.62,222.87 L388.95,224.97 L389.28,221.47 L389.60,224.49 L389.90,223.55 L390.20,224.25 L390.50,224.64 L390.80,224.95 L391.10,224.34 L391.40,225.00 L391.70,225.91 L392.02,225.63 L392.34,225.75 L392.66,229.07 L392.98,229.05 L393.30,229.84 L393.64,232.73 L393.98,232.15 L394.32,228.95 L394.66,232.60 L395.00,232.02 L395.31,232.95 L395.62,233.56 L395.94,233.05 L396.25,233.79 L396.68,234.98 L397.10,240.00 L397.43,240.94 L397.76,240.58 L398.09,242.09 L398.42,243.42 L398.75,245.75 L399.08,244.55 L399.41,241.27 L399.74,242.92 L400.07,243.72 L400.40,245.83 L400.72,245.77 L401.05,246.04 L401.38,246.19 L401.70,248.33 L401.99,248.45 L402.29,250.94 L402.58,252.26 L402.87,255.03 L403.16,256.69 L403.46,253.13 L403.75,256.12 L404.04,256.52 L404.34,257.10 L404.63,257.17 L404.92,254.02 L405.21,256.03 L405.51,257.00 L405.80,254.92 L406.12,257.47 L406.45,260.35 L406.78,263.24 L407.10,261.99 L407.41,262.61 L407.71,264.68 L408.02,264.23 L408.33,265.17 L408.64,266.30 L408.94,267.92 L409.25,268.13 L409.57,269.41 L409.88,269.67 L410.20,270.39 L410.52,273.96 L410.83,272.23 L411.15,271.75 L411.47,273.78 L411.78,273.84 L412.10,274.28 L412.10,277.86 L412.40,279.64 L412.70,281.52 L413.00,282.26 L413.30,282.50 L413.60,282.80 L413.90,284.19 L414.20,284.65 L414.50,287.38 L414.80,287.88 L415.10,288.98 L415.40,290.34 L415.70,291.93 L416.00,291.71 L416.30,293.02 L416.61,293.99 L416.93,292.75 L417.24,295.98 L417.56,295.73 L417.87,295.67 L418.19,298.09 L418.50,298.42 L418.80,299.31 L419.10,300.97 L419.40,302.46 L419.70,302.61 L420.00,303.04 L420.30,304.17 L420.60,305.71 L420.90,306.08 L421.20,306.44 L421.50,309.16 L421.80,309.68 L422.10,311.59 L422.40,313.15 L422.70,312.41 L423.00,312.15 L423.30,316.15 L423.60,315.56 L423.90,316.29 L424.20,317.39 L424.50,318.18 L424.80,319.12 L425.09,320.32 L425.38,322.17 L425.67,324.06 L425.96,324.33 L426.25,326.37 L426.54,328.43 L426.83,326.64 L427.12,327.75 L427.41,331.45 L427.70,329.86 L428.05,330.21 L428.40,332.91 L428.75,332.78 L429.10,335.13 L429.45,337.26 L429.80,340.00" fill="none" stroke="#0000ff" stroke-width="0.9" stroke-linejoin="round"/><path d="M433.40,118.27 L433.75,117.31 L434.10,116.44 L434.45,115.80 L434.80,114.10 L435.14,112.60 L435.48,112.38 L435.82,112.20 L436.16,111.21 L436.50,112.64 L436.90,110.04 L437.30,109.07 L437.60,106.87 L437.90,109.22 L438.20,110.59 L438.50,110.56 L438.87,111.04 L439.23,108.10 L439.60,105.60 L439.89,103.87 L440.17,104.58 L440.46,106.00 L440.74,103.19 L441.03,103.72 L441.31,103.26 L441.60,102.48 L441.95,102.37 L442.30,99.29 L442.65,100.19 L443.00,99.43 L443.35,101.27 L443.70,102.36 L444.05,104.03 L444.40,103.57 L444.70,103.01 L445.00,102.00 L445.30,100.11 L445.60,100.44 L445.92,100.73 L446.23,103.74 L446.55,101.77 L446.87,102.75 L447.18,102.22 L447.50,102.69 L447.81,102.61 L448.13,103.06 L448.44,103.70 L448.76,101.96 L449.07,102.14 L449.39,102.50 L449.70,102.68 L450.10,104.46 L450.41,104.59 L450.73,104.95 L451.04,105.74 L451.35,105.13 L451.66,106.35 L451.98,103.40 L452.29,105.10 L452.60,103.36 L452.90,107.73 L453.21,110.32 L453.53,109.61 L453.84,109.18 L454.16,107.60 L454.47,109.15 L454.79,109.29 L455.10,109.03 L455.45,110.45 L455.80,108.94 L456.10,113.72 L456.40,115.06 L456.72,117.37 L457.05,117.29 L457.38,118.47 L457.70,120.49 L458.02,119.01 L458.33,120.26 L458.65,121.20 L458.97,121.44 L459.28,121.44 L459.60,121.14 L459.90,124.33 L460.20,124.85 L460.50,125.78 L460.80,127.94 L461.10,125.15 L461.39,126.14 L461.68,126.92 L461.97,124.67 L462.26,125.02 L462.55,125.59 L462.84,125.30 L463.13,126.15 L463.42,125.93 L463.71,124.36 L464.00,125.40" fill="none" stroke="#0000ff" stroke-width="0.9" stroke-linejoin="round"/><path d="M464.60,235.66 L464.93,235.72 L465.26,234.29 L465.59,234.90 L465.92,234.65 L466.25,233.16 L466.70,227.64 L467.02,228.00 L467.34,227.14 L467.66,224.34 L467.98,223.82 L468.30,224.46 L468.60,223.55 L468.90,222.96 L469.20,222.10 L469.50,221.51 L469.80,221.51 L470.10,218.65 L470.40,218.97 L470.74,216.46 L471.08,217.75 L471.42,217.45 L471.76,213.48 L472.10,216.11 L472.50,212.26 L472.90,211.71 L473.32,208.52 L473.75,208.41 L474.06,207.77 L474.38,208.27 L474.69,207.88 L475.00,209.82 L475.40,205.09 L475.80,204.76 L476.14,204.29 L476.48,204.47 L476.82,204.02 L477.16,202.33 L477.50,204.13 L477.90,200.93 L478.20,200.43 L478.50,198.55 L478.80,197.79 L479.10,195.20 L479.40,198.27 L479.70,195.93 L480.00,194.48 L480.30,193.85 L480.60,194.02 L480.90,189.47 L481.20,190.59 L481.51,189.63 L481.82,187.95 L482.13,188.56 L482.44,186.87 L482.76,184.79 L483.07,188.13 L483.38,186.53 L483.69,186.30 L484.00,185.50 L484.30,184.49 L484.60,184.29 L484.90,183.53 L485.20,182.47 L485.50,180.67 L485.80,180.15 L486.10,179.46 L486.40,179.22 L486.70,178.69 L487.00,178.74 L487.30,177.96 L487.60,177.24 L487.95,175.77 L488.30,175.79 L488.65,175.04 L489.00,173.91 L489.30,174.78 L489.60,172.02 L489.90,171.03 L490.20,172.24 L490.50,170.25 L490.80,169.25 L491.11,168.18 L491.42,169.24 L491.73,167.99 L492.04,165.00 L492.36,168.14 L492.67,167.02 L492.98,167.20 L493.29,166.79 L493.60,166.35 L493.90,163.60 L494.20,164.37 L494.50,162.31 L494.80,163.82 L495.10,163.17 L495.40,163.53 L495.70,162.75 L496.00,163.83 L496.30,161.64 L496.65,161.45 L497.00,160.85 L497.35,160.91 L497.70,160.50 L498.02,159.54 L498.33,160.12 L498.65,158.96 L498.97,158.60 L499.28,157.51 L499.60,157.67 L500.00,154.21 L500.29,153.73 L500.57,155.32 L500.86,152.10 L501.15,152.22 L501.44,152.08 L501.73,152.69 L502.01,152.22 L502.30,151.68 L502.60,152.50 L502.90,152.00 L503.20,151.36 L503.50,151.64 L503.80,151.63 L504.10,151.40 L504.40,151.08 L504.70,150.82 L505.00,151.25 L505.32,152.85 L505.65,149.69 L505.98,149.06 L506.30,148.97 L506.59,148.65 L506.87,148.86 L507.16,149.73 L507.44,149.93 L507.73,150.37 L508.01,150.12 L508.30,148.53 L508.59,148.74 L508.87,149.59 L509.16,148.66 L509.44,150.28 L509.73,146.25 L510.01,149.72 L510.30,146.99 L510.70,145.40 L511.02,146.47 L511.34,145.94 L511.66,147.02 L511.98,148.92 L512.30,147.51 L512.60,142.87 L512.90,138.94 L513.20,133.67 L513.50,131.31 L513.80,130.67 L514.10,131.50 L514.40,132.58 L514.70,131.56 L515.02,136.20 L515.34,136.42 L515.66,134.65 L515.98,137.07 L516.30,135.52 L516.70,138.83 L516.99,138.95 L517.27,139.06 L517.56,137.44 L517.84,138.30 L518.13,139.51 L518.41,139.72 L518.70,140.28 L519.03,140.05 L519.35,141.09 L519.67,142.41 L520.00,143.22 L520.00,146.08 L520.29,146.61 L520.58,145.36 L520.86,144.60 L521.15,145.12 L521.44,147.71 L521.72,146.25 L522.01,144.73 L522.30,145.58 L522.64,148.11 L522.98,150.32 L523.32,152.91 L523.66,154.71 L524.00,156.43 L524.34,156.66 L524.68,152.35 L525.02,152.75 L525.36,151.62 L525.70,150.63 L525.99,150.65 L526.28,148.57 L526.56,149.01 L526.85,149.29 L527.14,145.41 L527.42,144.38 L527.71,145.21 L528.00,143.11 L528.33,141.51 L528.65,139.67 L528.97,137.79 L529.30,136.30" fill="none" stroke="#0000ff" stroke-width="0.9" stroke-linejoin="round"/><path d="M301.30,89.50 L302.20,83.20 L302.80,89.00 L303.60,84.80 L304.40,88.60 L305.40,84.30 L306.40,87.20 L307.60,84.60 L308.40,88.40 L309.60,84.20 L310.50,87.20 L311.40,85.30 L312.10,88.00" fill="none" stroke="#0000ff" stroke-width="0.9" stroke-linejoin="round"/><path d="M312.20,254.50 L313.50,254.00 L314.50,251.50 L315.20,255.00 L316.00,256.00 L317.00,261.00 L318.00,257.00 L319.50,258.50 L320.60,258.00" fill="none" stroke="#0000ff" stroke-width="0.9" stroke-linejoin="round"/><path d="M431.30,126.00 L430.80,122.00 L432.00,124.00 L431.60,119.00 L432.60,121.00" fill="none" stroke="#0000ff" stroke-width="0.9" stroke-linejoin="round"/>
<g fill="#3c3c3c">
<rect x="100" y="539" width="6" height="1"/><rect x="714" y="539" width="6" height="1"/><rect x="100" y="480" width="6" height="1"/><rect x="714" y="480" width="6" height="1"/><rect x="100" y="420" width="6" height="1"/><rect x="714" y="420" width="6" height="1"/><rect x="100" y="360" width="6" height="1"/><rect x="714" y="360" width="6" height="1"/><rect x="100" y="300" width="6" height="1"/><rect x="714" y="300" width="6" height="1"/><rect x="100" y="240" width="6" height="1"/><rect x="714" y="240" width="6" height="1"/><rect x="100" y="180" width="6" height="1"/><rect x="714" y="180" width="6" height="1"/><rect x="100" y="120" width="6" height="1"/><rect x="714" y="120" width="6" height="1"/><rect x="100" y="60" width="6" height="1"/><rect x="714" y="60" width="6" height="1"/><rect x="153" y="534" width="1" height="6"/><rect x="153" y="60" width="1" height="6"/><rect x="290" y="534" width="1" height="6"/><rect x="290" y="60" width="1" height="6"/><rect x="428" y="534" width="1" height="6"/><rect x="428" y="60" width="1" height="6"/><rect x="566" y="534" width="1" height="6"/><rect x="566" y="60" width="1" height="6"/><rect x="704" y="534" width="1" height="6"/><rect x="704" y="60" width="1" height="6"/>
</g>
<rect x="112.5" y="69.7" width="183.5" height="16.35" fill="#fff" stroke="#000" stroke-width="1.4"/>
<line x1="129.8" y1="78" x2="161.6" y2="78" stroke="#0000ff" stroke-width="0.75"/>
<text transform="translate(173.00,80.80) scale(1.1695,1)" text-anchor="start" font-size="14.03">Tiltmeter angle</text>
<text transform="translate(95.60,544.90) scale(1.0534,1)" text-anchor="end" font-size="16.84">0</text><text transform="translate(95.60,484.90) scale(1.0534,1)" text-anchor="end" font-size="16.84">10</text><text transform="translate(95.60,424.90) scale(1.0534,1)" text-anchor="end" font-size="16.84">20</text><text transform="translate(95.60,364.90) scale(1.0534,1)" text-anchor="end" font-size="16.84">30</text><text transform="translate(95.60,304.90) scale(1.0534,1)" text-anchor="end" font-size="16.84">40</text><text transform="translate(95.60,244.90) scale(1.0534,1)" text-anchor="end" font-size="16.84">50</text><text transform="translate(95.60,184.90) scale(1.0534,1)" text-anchor="end" font-size="16.84">60</text><text transform="translate(95.60,124.90) scale(1.0534,1)" text-anchor="end" font-size="16.84">70</text><text transform="translate(95.60,64.90) scale(1.0534,1)" text-anchor="end" font-size="16.84">80</text><text transform="translate(154.80,556.00) scale(1.0718,1)" text-anchor="middle" font-size="16.84">15:00</text><text transform="translate(154.00,572.80) scale(1.1068,1)" text-anchor="middle" font-size="16.84">Nov 11</text><text transform="translate(291.30,556.00) scale(1.0718,1)" text-anchor="middle" font-size="16.84">23:00</text><text transform="translate(291.00,572.80) scale(1.1068,1)" text-anchor="middle" font-size="16.84">Nov 11</text><text transform="translate(429.30,556.00) scale(1.0718,1)" text-anchor="middle" font-size="16.84">07:00</text><text transform="translate(429.00,572.80) scale(1.1068,1)" text-anchor="middle" font-size="16.84">Nov 12</text><text transform="translate(567.80,556.00) scale(1.0718,1)" text-anchor="middle" font-size="16.84">15:00</text><text transform="translate(567.00,572.80) scale(1.1068,1)" text-anchor="middle" font-size="16.84">Nov 12</text><text transform="translate(705.30,556.00) scale(1.0718,1)" text-anchor="middle" font-size="16.84">23:00</text><text transform="translate(705.00,572.80) scale(1.1068,1)" text-anchor="middle" font-size="16.84">Nov 12</text>
<text transform="translate(410.00,49.25) scale(1.0899,1)" text-anchor="middle" font-size="19.63">APOLLO Tiltmeter</text>
<text transform="translate(410.25,591.70) scale(1.0762,1)" text-anchor="middle" font-size="16.84">Date (GMT)</text>
<text transform="translate(68.70,299.10) rotate(-90) scale(1.0604,1)" text-anchor="middle" font-size="16.84">Angle (deg)</text>
</svg>
</body></html>
